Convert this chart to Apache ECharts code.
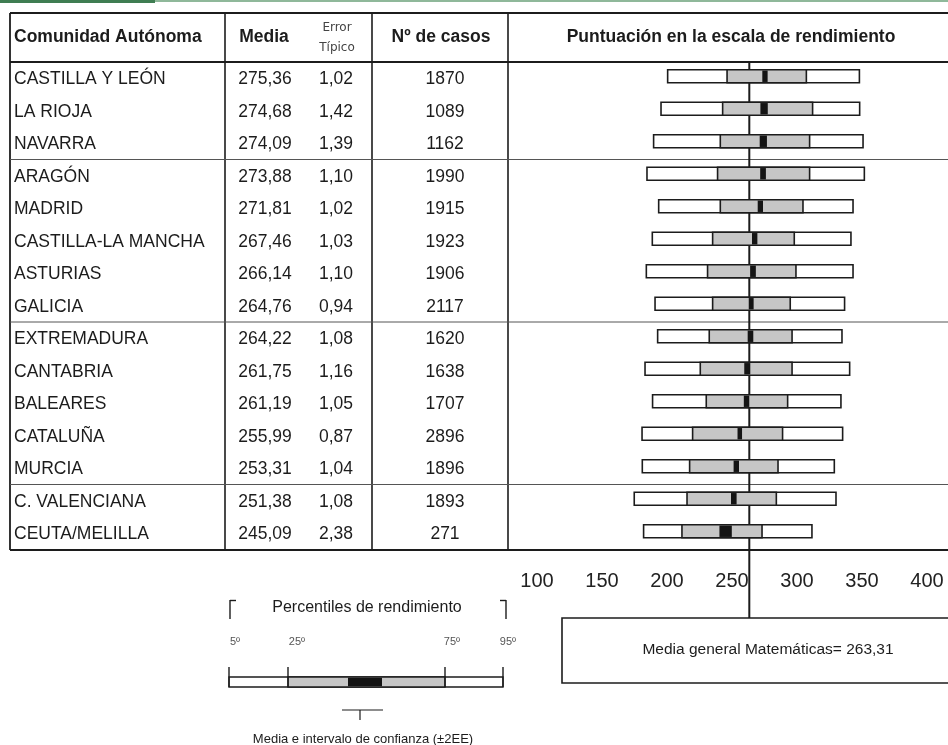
<!DOCTYPE html>
<html>
<head>
    <meta charset="utf-8">
    <title>Puntuación en la escala de rendimiento</title>
    <script src="https://cdn.jsdelivr.net/npm/echarts@6/dist/echarts.min.js"></script>
    <style>
        html, body { margin: 0; padding: 0; background: #fff; }
        #main { width: 948px; height: 745px; }
    </style>
</head>
<body>
    <div id="main"></div>
    <script type="text/javascript">
        // datos de la tabla
        var comunidades = ['CASTILLA Y LEÓN', 'LA RIOJA', 'NAVARRA', 'ARAGÓN', 'MADRID', 'CASTILLA-LA MANCHA', 'ASTURIAS', 'GALICIA', 'EXTREMADURA', 'CANTABRIA', 'BALEARES', 'CATALUÑA', 'MURCIA', 'C. VALENCIANA', 'CEUTA/MELILLA'];
        var media = [275.36, 274.68, 274.09, 273.88, 271.81, 267.46, 266.14, 264.76, 264.22, 261.75, 261.19, 255.99, 253.31, 251.38, 245.09];
        var errorTipico = [1.02, 1.42, 1.39, 1.10, 1.02, 1.03, 1.10, 0.94, 1.08, 1.16, 1.05, 0.87, 1.04, 1.08, 2.38];
        var casos = [1870, 1089, 1162, 1990, 1915, 1923, 1906, 2117, 1620, 1638, 1707, 2896, 1896, 1893, 271];

        // percentiles
        var p5 = [200.5, 195.4, 189.7, 184.6, 193.6, 188.7, 184.1, 190.8, 192.8, 183.1, 188.9, 180.8, 181.0, 174.8, 182.0];
        var p25 = [246.2, 242.8, 241.0, 238.9, 241.0, 235.1, 231.2, 235.1, 232.5, 225.6, 230.2, 219.7, 217.4, 215.4, 211.5];
        var p75 = [307.2, 312.0, 309.7, 309.7, 304.6, 297.9, 299.2, 294.8, 296.2, 296.2, 292.8, 288.9, 285.4, 284.1, 273.1];
        var p95 = [348.0, 348.2, 350.8, 351.8, 343.1, 341.5, 343.1, 336.6, 334.6, 340.5, 333.8, 335.1, 328.7, 330.0, 311.5];

        var mediaGeneral = 263.31;
        var escalaMin = 100, escalaMax = 400, escalaPaso = 50;

        var fuente = '"Liberation Sans", Arial, sans-serif';
        var negro = '#1c1c1c';

        function coma(v) {
            return v.toFixed(2).replace('.', ',');
        }

        var datos = [];
        for (var i = 0; i < comunidades.length; i++) {
            datos.push([i, p5[i], p25[i], p75[i], p95[i], media[i] - 2 * errorTipico[i], media[i] + 2 * errorTipico[i]]);
        }

        var myChart = echarts.init(document.getElementById('main'));

        // ejes de texto para las columnas de la tabla
        function ejeTexto(valores, x, align) {
            return {
                type: 'category',
                gridIndex: 1,
                inverse: true,
                position: 'left',
                offset: 537 - x,
                data: valores,
                axisLine: { show: false },
                axisTick: { show: false },
                axisLabel: { margin: 0, align: align, fontSize: 17.5, color: negro, fontFamily: fuente }
            };
        }

        var option = {
            animation: false,
            grid: [
                { left: 537, width: 390, top: 60, height: 487.5 },
                { left: 537, width: 390, top: 63, height: 487.5 }
            ],
            xAxis: [
                {
                    type: 'value',
                    gridIndex: 0,
                    min: escalaMin,
                    max: escalaMax,
                    interval: escalaPaso,
                    axisLine: { show: false },
                    axisTick: { show: false },
                    splitLine: { show: false },
                    axisLabel: { margin: 24, fontSize: 20, color: '#222', fontFamily: fuente }
                },
                { type: 'value', gridIndex: 1, show: false, min: 0, max: 1 }
            ],
            yAxis: [
                {
                    type: 'category',
                    gridIndex: 0,
                    inverse: true,
                    data: comunidades,
                    show: false
                },
                ejeTexto(comunidades, 14, 'left'),
                ejeTexto(media.map(coma), 265, 'center'),
                ejeTexto(errorTipico.map(coma), 336, 'center'),
                ejeTexto(casos.map(String), 445, 'center')
            ],
            series: [{
                type: 'custom',
                xAxisIndex: 0,
                yAxisIndex: 0,
                data: datos,
                encode: { x: [1, 2, 3, 4, 5, 6], y: 0 },
                renderItem: function (params, api) {
                    var fila = api.value(0);
                    var a5 = api.coord([api.value(1), fila]);
                    var a25 = api.coord([api.value(2), fila]);
                    var a75 = api.coord([api.value(3), fila]);
                    var a95 = api.coord([api.value(4), fila]);
                    var lo = api.coord([api.value(5), fila]);
                    var hi = api.coord([api.value(6), fila]);
                    var h = api.size([0, 1])[1] * 0.4;
                    var y = a5[1] - h / 2;
                    var borde = { stroke: negro, lineWidth: 1.6 };
                    return {
                        type: 'group',
                        children: [
                            { type: 'rect', shape: { x: a5[0], y: y, width: a95[0] - a5[0], height: h }, style: { fill: '#fff', stroke: negro, lineWidth: 1.6 } },
                            { type: 'rect', shape: { x: a25[0], y: y, width: a75[0] - a25[0], height: h }, style: { fill: '#c6c6c6', stroke: negro, lineWidth: 1.6 } },
                            { type: 'rect', shape: { x: lo[0], y: y + 0.8, width: hi[0] - lo[0], height: h - 1.6 }, style: { fill: '#141414' } }
                        ]
                    };
                }
            }]
        };

        myChart.setOption(option);

        // linea de la media general, por la escala del eje
        var xm = myChart.convertToPixel({ xAxisIndex: 0 }, mediaGeneral);
        var filaAlto = 487.5 / comunidades.length;

        function linea(x1, y1, x2, y2, w, c) {
            return { type: 'line', shape: { x1: x1, y1: y1, x2: x2, y2: y2 }, style: { stroke: c || negro, lineWidth: w } };
        }
        function texto(t, x, y, size, align, extra) {
            var st = { text: t, x: x, y: y, fontSize: size, fontFamily: fuente, fill: negro, align: align, verticalAlign: 'middle' };
            for (var k in extra) st[k] = extra[k];
            return { type: 'text', style: st };
        }

        var g = [];
        // franja verde superior
        g.push(linea(0, 1, 948, 1, 2, '#8fb89a'));
        g.push(linea(0, 1.5, 155, 1.5, 3, '#3f7d52'));
        // marco de la tabla
        g.push(linea(10, 13, 948, 13, 2));
        g.push(linea(10, 62, 948, 62, 2));
        g.push(linea(10, 550, 948, 550, 2));
        g.push(linea(10, 13, 10, 550, 1.8));
        g.push(linea(225, 13, 225, 550, 1.6));
        g.push(linea(372, 13, 372, 550, 1.6));
        g.push(linea(508, 13, 508, 550, 1.6));
        [3, 8, 13].forEach(function (n) {
            var yy = 62 + n * filaAlto;
            g.push(linea(10, yy, 948, yy, 1, '#555'));
        });
        // cabeceras
        g.push(texto('Comunidad Autónoma', 14, 37, 17.5, 'left', { fontWeight: 'bold' }));
        g.push(texto('Media', 264, 37, 17.5, 'center', { fontWeight: 'bold' }));
        g.push(texto('Error', 337, 28, 12, 'center', { fontFamily: '"DejaVu Sans", sans-serif', fill: '#444' }));
        g.push(texto('Típico', 337, 48, 12, 'center', { fontFamily: '"DejaVu Sans", sans-serif', fill: '#444' }));
        g.push(texto('Nº de casos', 441, 37, 17.5, 'center', { fontWeight: 'bold' }));
        g.push(texto('Puntuación en la escala de rendimiento', 731, 37, 17.5, 'center', { fontWeight: 'bold' }));
        // media general
        g.push(linea(xm, 62, xm, 618, 2));
        g.push({ type: 'rect', shape: { x: 562, y: 618, width: 400, height: 65 }, style: { fill: '#fff', stroke: negro, lineWidth: 1.6 } });
        g.push(texto('Media general Matemáticas= ' + coma(mediaGeneral), 768, 650, 15.5, 'center'));
        // leyenda de percentiles
        g.push(linea(230, 600, 230, 619, 1.4));
        g.push(linea(230, 600.5, 236, 600.5, 1.4));
        g.push(linea(506, 600, 506, 619, 1.4));
        g.push(linea(500, 600.5, 506, 600.5, 1.4));
        g.push(texto('Percentiles de rendimiento', 367, 608, 16, 'center'));
        g.push(texto('5º', 235, 642, 11, 'center', { fill: '#555' }));
        g.push(texto('25º', 297, 642, 11, 'center', { fill: '#555' }));
        g.push(texto('75º', 452, 642, 11, 'center', { fill: '#555' }));
        g.push(texto('95º', 508, 642, 11, 'center', { fill: '#555' }));
        g.push({ type: 'rect', shape: { x: 229, y: 677, width: 274, height: 10 }, style: { fill: '#fff', stroke: negro, lineWidth: 1.4 } });
        g.push({ type: 'rect', shape: { x: 288, y: 677, width: 157, height: 10 }, style: { fill: '#c6c6c6', stroke: negro, lineWidth: 1.4 } });
        g.push({ type: 'rect', shape: { x: 348, y: 677.7, width: 34, height: 8.6 }, style: { fill: '#141414' } });
        g.push(linea(229, 667, 229, 687, 1.4));
        g.push(linea(288, 667, 288, 687, 1.4));
        g.push(linea(445, 667, 445, 687, 1.4));
        g.push(linea(503, 667, 503, 687, 1.4));
        g.push(linea(342, 710, 383, 710, 1.2));
        g.push(linea(360, 710, 360, 720, 1.2));
        g.push(texto('Media e intervalo de confianza (±2EE)', 363, 739, 13, 'center'));

        myChart.setOption({ graphic: { elements: g } });

        window.addEventListener('resize', function () {
            myChart.resize();
        });
    </script>
</body>
</html>
